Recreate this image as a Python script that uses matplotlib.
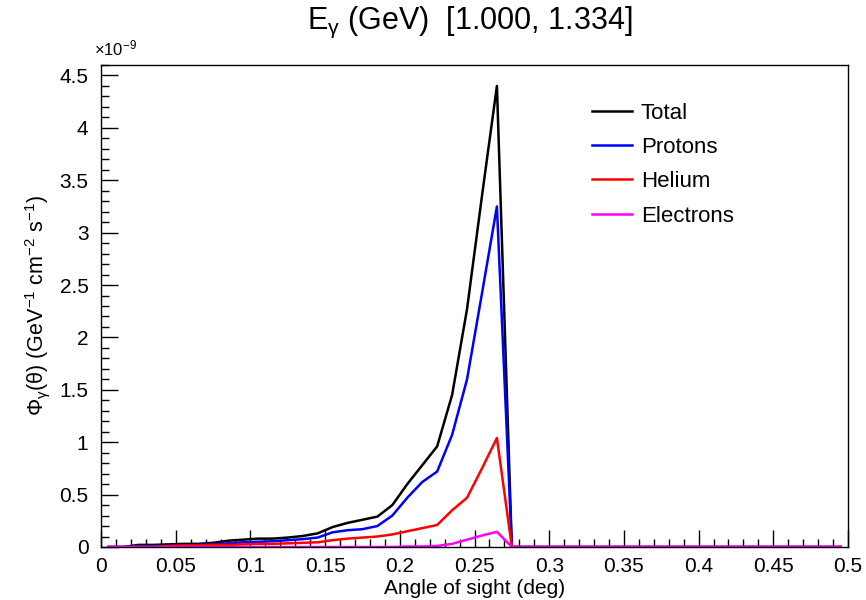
import numpy as np
import matplotlib
matplotlib.use("Agg")
import matplotlib.pyplot as plt
from matplotlib.ticker import MultipleLocator

plt.rcParams['font.family'] = ['Liberation Sans', 'DejaVu Sans']
plt.rcParams['mathtext.fontset'] = 'custom'
plt.rcParams['mathtext.rm'] = 'Liberation Sans'
plt.rcParams['mathtext.it'] = 'Liberation Sans:italic'

# angle of sight (deg), bin centres
angle = np.arange(50) * 0.01 + 0.005

# flux in units of 1e-9 GeV^-1 cm^-2 s^-1
total = [0, 0, 0.02, 0.02, 0.025, 0.03, 0.03, 0.04, 0.06, 0.07,
         0.08, 0.08, 0.09, 0.105, 0.13, 0.19, 0.23, 0.26, 0.29, 0.40,
         0.60, 0.78, 0.96, 1.45, 2.27, 3.35, 4.4, 0] + [0] * 22
protons = [0, 0, 0.005, 0.005, 0.01, 0.015, 0.02, 0.025, 0.035, 0.045,
           0.05, 0.055, 0.065, 0.075, 0.09, 0.14, 0.16, 0.17, 0.20, 0.30,
           0.47, 0.62, 0.72, 1.07, 1.6, 2.42, 3.25, 0] + [0] * 22
helium = [0, 0, 0, 0, 0.01, 0.015, 0.015, 0.02, 0.02, 0.025,
          0.03, 0.03, 0.035, 0.04, 0.045, 0.065, 0.08, 0.09, 0.10, 0.12,
          0.15, 0.18, 0.21, 0.35, 0.47, 0.75, 1.04, 0] + [0] * 22
electrons = [0] * 20 + [0.005, 0.005, 0.01, 0.03, 0.07, 0.11, 0.145, 0] + [0] * 22

xticks = ['0', '0.05', '0.1', '0.15', '0.2', '0.25', '0.3', '0.35', '0.4', '0.45', '0.5']
yticks = ['0', '0.5', '1', '1.5', '2', '2.5', '3', '3.5', '4', '4.5']

fig = plt.figure(figsize=(8.66, 6.0), dpi=100)
ax = fig.add_axes([101 / 866, 53 / 600, 747 / 866, 482 / 600])

ax.plot(angle, total, color='black', lw=1.8, label='Total')
ax.plot(angle, protons, color='#0000ff', lw=1.8, label='Protons')
ax.plot(angle, helium, color='#ff0000', lw=1.8, label='Helium')
ax.plot(angle, electrons, color='#ff00ff', lw=1.8, label='Electrons')

ax.set_xlim(0, 0.5)
ax.set_ylim(0, 4.6)
ax.set_xticks(np.arange(0, 0.51, 0.05))
ax.set_xticklabels(xticks)
ax.set_yticks(np.arange(0, 4.51, 0.5))
ax.set_yticklabels(yticks)
ax.xaxis.set_minor_locator(MultipleLocator(0.01))
ax.yaxis.set_minor_locator(MultipleLocator(0.1))
ax.tick_params(which='major', direction='in', length=12, width=1,
               labelsize=15, top=False, right=False)
ax.tick_params(which='minor', direction='in', length=6, width=1,
               top=False, right=False)
ax.tick_params(axis='x', pad=7)
ax.tick_params(axis='y', pad=9)
for s in ax.spines.values():
    s.set_linewidth(1)

ax.set_xlabel('Angle of sight (deg)', fontsize=15)
ax.xaxis.set_label_coords(0.5, -0.066)
ax.set_ylabel('Φ$_{\\mathrm{γ}}$(θ) (GeV$^{-1}$ cm$^{-2}$ s$^{-1}$)', fontsize=15.5)
ax.yaxis.set_label_coords(-0.066, 0.5)

fig.text(94 / 866, 1 - 58 / 600, '×10$^{-9}$', fontsize=12, ha='left', va='bottom')
fig.text(470 / 866, 1 - 22 / 600, 'E$_{\\mathrm{γ}}$ (GeV)  [1.000, 1.334]', fontsize=22,
         ha='center', va='center')

ax.legend(loc='upper left', bbox_to_anchor=(0.657, 0.922), frameon=False,
          fontsize=16, handlelength=1.8, handletextpad=0.4, labelspacing=0.6,
          borderpad=0, borderaxespad=0)

fig.savefig('out.png', dpi=100)
